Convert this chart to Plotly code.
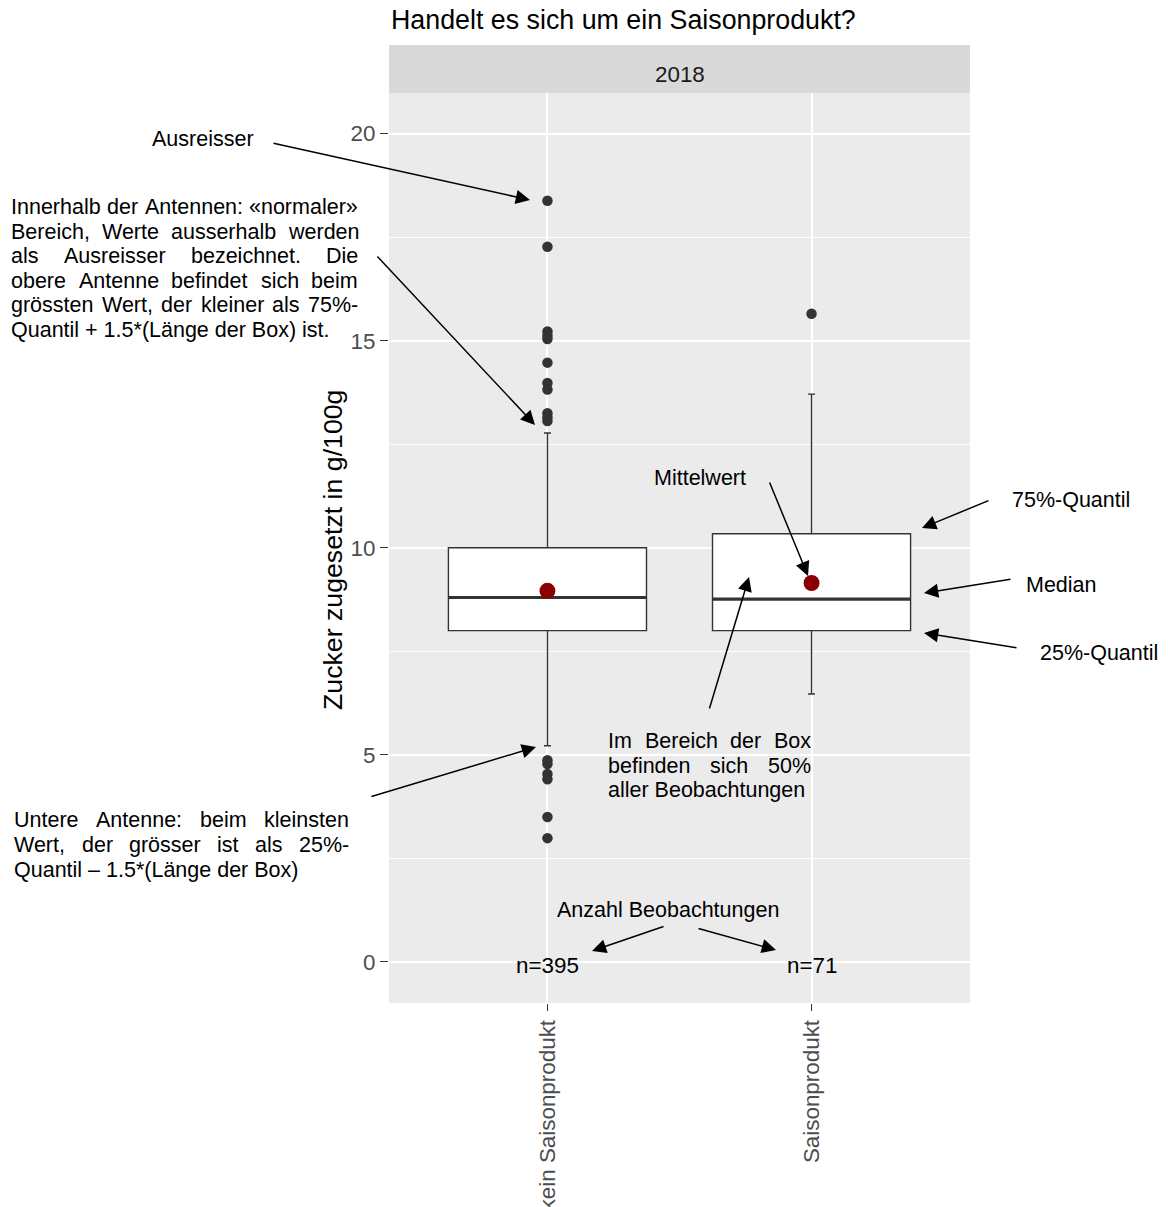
import plotly.graph_objects as go

# --- data -------------------------------------------------------------
categories = ["kein Saisonprodukt", "Saisonprodukt"]
x_pos = [1, 2]
q1 = [8.00, 8.00]
median = [8.80, 8.76]
q3 = [10.00, 10.34]
lower_whisker = [5.22, 6.47]
upper_whisker = [12.77, 13.71]
means = [8.96, 9.15]
n_obs = [395, 71]
outliers_kein = [18.38, 17.27, 15.22, 15.12, 15.04, 14.47, 13.98, 13.82,
                 13.25, 13.15, 13.06, 4.87, 4.78, 4.54, 4.41, 3.50, 2.99]
outliers_saison = [15.65]
y_ticks = [0, 5, 10, 15, 20]
y_minor = [2.5, 7.5, 12.5, 17.5]
facet_label = "2018"

FONT = "Liberation Sans, Arial, sans-serif"
BOX_W = 0.75

# --- page geometry (pixels) -------------------------------------------
FIG_W, FIG_H = 1168, 1207
P_L, P_R, P_T, P_B = 389, 970, 93, 1003
P_W, P_H = P_R - P_L, P_B - P_T


def fx(x):
    return (x - P_L) / P_W


def fy(y):
    return (P_B - y) / P_H


# Arial advance widths (1/1000 em) for word layout of justified paragraphs
AW = {" ": 278, "%": 889, "(": 333, ")": 333, "*": 389, "+": 584, ",": 278,
      "-": 333, ".": 278, "/": 278, ":": 278, "=": 584, "?": 556,
      "«": 556, "»": 556, "–": 556, "ä": 556, "ö": 556, "ü": 556,
      "A": 667, "B": 667, "C": 722, "D": 722, "E": 667, "F": 611, "G": 778,
      "H": 722, "I": 278, "J": 500, "K": 667, "L": 556, "M": 833, "N": 722,
      "O": 778, "P": 667, "Q": 778, "R": 722, "S": 667, "T": 611, "U": 722,
      "V": 667, "W": 944, "X": 667, "Y": 667, "Z": 611,
      "a": 556, "b": 556, "c": 500, "d": 556, "e": 556, "f": 278, "g": 556,
      "h": 556, "i": 222, "j": 222, "k": 500, "l": 222, "m": 833, "n": 556,
      "o": 556, "p": 556, "q": 556, "r": 333, "s": 500, "t": 278, "u": 556,
      "v": 500, "w": 722, "x": 500, "y": 500, "z": 500}
for d in "0123456789":
    AW[d] = 556

NOTE_SIZE = 21.5


def text_width(s, size=NOTE_SIZE):
    return sum(AW.get(c, 556) for c in s) / 1000 * size


annotations = []


def note(x, y, text, size=NOTE_SIZE, xanchor="left", color="#000000", **kw):
    annotations.append(dict(
        x=fx(x), y=fy(y), xref="paper", yref="paper", text=text,
        showarrow=False, xanchor=xanchor, yanchor="middle",
        borderpad=0, borderwidth=0,
        font=dict(family=FONT, size=size, color=color), **kw))


def justified(line, left, right, y):
    words = line.split()
    widths = [text_width(w) for w in words]
    gap = (right - left - sum(widths)) / (len(words) - 1)
    x = left
    for w, wd in zip(words, widths):
        note(x, y, w)
        x += wd + gap


def paragraph(lines, left, right, y0, step):
    for i, line in enumerate(lines):
        y = y0 + i * step
        if i < len(lines) - 1:
            justified(line, left, right, y)
        else:
            note(left, y, line)


def arrow(tail, head):
    annotations.append(dict(
        x=fx(head[0]), y=fy(head[1]), xref="paper", yref="paper",
        ax=tail[0] - head[0], ay=tail[1] - head[1], axref="pixel", ayref="pixel",
        text="", showarrow=True, arrowhead=2, arrowsize=1.9, arrowwidth=1.5,
        arrowcolor="#000000", standoff=0))


# --- traces ------------------------------------------------------------
fig = go.Figure()

fig.add_trace(go.Box(
    x=x_pos, q1=q1, median=median, q3=q3,
    lowerfence=lower_whisker, upperfence=upper_whisker,
    width=BOX_W, whiskerwidth=0.035, boxpoints=False,
    fillcolor="#FFFFFF", line=dict(color="#333333", width=1.4),
    hoverinfo="skip", showlegend=False))

# thick median bars
for xi, m in zip(x_pos, median):
    fig.add_trace(go.Scatter(
        x=[xi - BOX_W / 2, xi + BOX_W / 2], y=[m, m], mode="lines",
        line=dict(color="#333333", width=3.2), showlegend=False,
        hoverinfo="skip"))

# outliers
fig.add_trace(go.Scatter(
    x=[x_pos[0]] * len(outliers_kein) + [x_pos[1]] * len(outliers_saison),
    y=outliers_kein + outliers_saison, mode="markers",
    marker=dict(color="#333333", size=10.5, line=dict(width=0)),
    showlegend=False, hoverinfo="skip"))

# means
fig.add_trace(go.Scatter(
    x=x_pos, y=means, mode="markers",
    marker=dict(color="#8B0000", size=16, line=dict(width=0)),
    showlegend=False, hoverinfo="skip"))

# observation counts, placed at y = 0 on each category
for xi, n in zip(x_pos, n_obs):
    annotations.append(dict(
        x=xi, y=0, xref="x", yref="y", text=f"n={n}", showarrow=False,
        xanchor="center", yanchor="middle", yshift=-4,
        borderpad=0, borderwidth=0,
        font=dict(family=FONT, size=22.4, color="#000000")))

# --- facet strip, titles ------------------------------------------------
shapes = [dict(type="rect", xref="paper", yref="paper", x0=0, x1=1,
               y0=1, y1=fy(45), fillcolor="#D9D9D9", line=dict(width=0),
               layer="below")]

note((P_L + P_R) / 2, 74, facet_label, size=22.4, xanchor="center",
     color="#1A1A1A")
note(391, 20, "Handelt es sich um ein Saisonprodukt?", size=26.8)
note(333, 550, "Zucker zugesetzt in g/100g", size=26.7, xanchor="center",
     textangle=-90)

# --- explanatory notes ---------------------------------------------------
note(152, 139, "Ausreisser")
arrow((272, 143), (530, 200))

paragraph([
    "Innerhalb der Antennen: «normaler»",
    "Bereich, Werte ausserhalb werden",
    "als Ausreisser bezeichnet. Die",
    "obere Antenne befindet sich beim",
    "grössten Wert, der kleiner als 75%-",
    "Quantil + 1.5*(Länge der Box) ist.",
], 11, 358, 207, 24.5)
arrow((376, 255), (535, 425))

paragraph([
    "Untere Antenne: beim kleinsten",
    "Wert, der grösser ist als 25%-",
    "Quantil – 1.5*(Länge der Box)",
], 14, 349, 820, 24.8)
arrow((370, 797), (536, 747))

note(654, 478, "Mittelwert")
arrow((769, 481), (808, 576))

paragraph([
    "Im Bereich der Box",
    "befinden sich 50%",
    "aller Beobachtungen",
], 608, 811, 741, 24.6)
arrow((709, 710), (749, 577))

note(1012, 500, "75%-Quantil")
arrow((990, 500), (922, 528))
note(1026, 585, "Median")
arrow((1012, 579), (924, 593))
note(1040, 653, "25%-Quantil")
arrow((1018, 648), (924, 633))

note(557, 910, "Anzahl Beobachtungen")
arrow((665, 926), (592, 951))
arrow((697, 928), (776, 950))

# --- layout ---------------------------------------------------------------
fig.update_layout(
    width=FIG_W, height=FIG_H,
    margin=dict(l=P_L, r=FIG_W - P_R, t=P_T, b=FIG_H - P_B, pad=0),
    paper_bgcolor="#FFFFFF", plot_bgcolor="#EBEBEB",
    font=dict(family=FONT),
    showlegend=False,
    shapes=shapes,
    annotations=annotations,
    xaxis=dict(
        range=[0.4, 2.6], tickvals=x_pos, ticktext=categories,
        tickangle=-90, ticks="outside", ticklen=7, tickwidth=1.2,
        tickcolor="#333333", showgrid=True, gridcolor="#FFFFFF", gridwidth=1.6,
        zeroline=False, showline=False, automargin=False,
        tickfont=dict(family=FONT, size=22.4, color="#4D4D4D")),
    yaxis=dict(
        range=[-0.99, 20.98], tickvals=y_ticks, ticks="outside", ticklen=8,
        tickwidth=1.2, tickcolor="#333333", showgrid=True,
        gridcolor="#FFFFFF", gridwidth=1.6, zeroline=False, showline=False,
        automargin=False,
        minor=dict(tickvals=y_minor, showgrid=True, gridcolor="#FFFFFF",
                   gridwidth=0.8, ticks=""),
        tickfont=dict(family=FONT, size=22.4, color="#4D4D4D")),
)

fig.write_html("out.html")
